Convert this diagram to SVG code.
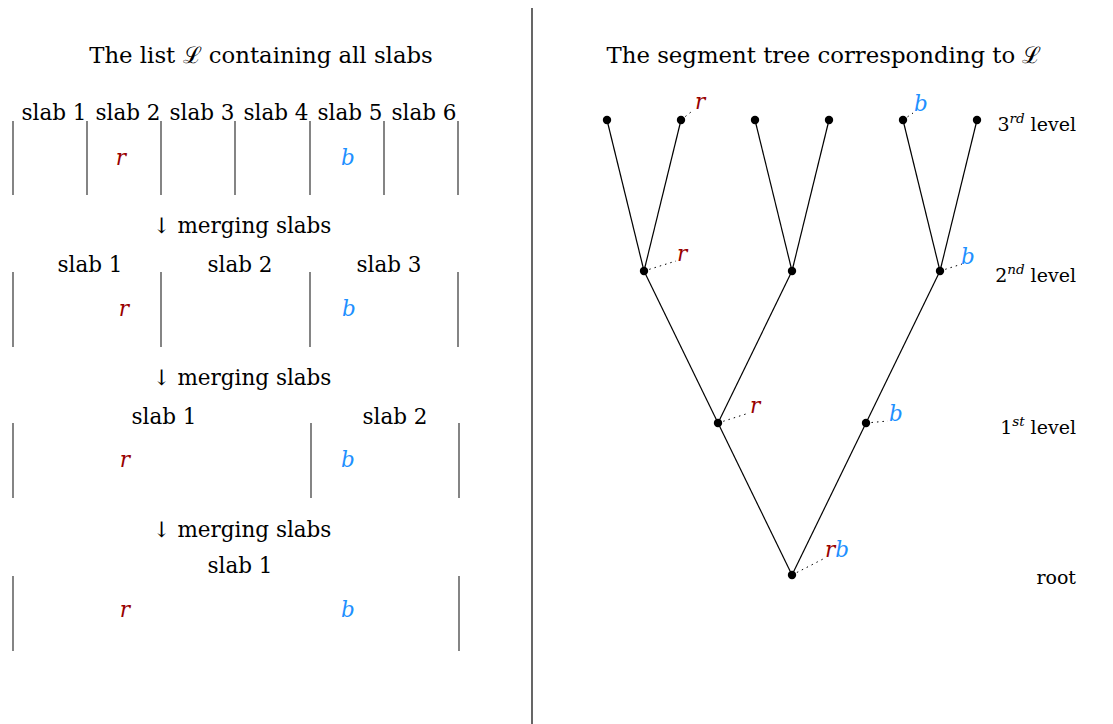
<svg xmlns="http://www.w3.org/2000/svg" width="1113" height="724" viewBox="0 0 1113 724">
<style>
text{font-family:"DejaVu Serif","Liberation Serif",serif;font-size:21.5px;fill:#000}
.t{font-size:22.8px}
.lv{font-size:19px}
.c{text-anchor:middle}
.e{text-anchor:end}
.r{fill:#990000;font-style:italic}
.b{fill:#1E90FF;font-style:italic}
.it{font-style:italic}
.sl{stroke:#333;stroke-width:1.2}
.ed{stroke:#000;stroke-width:1.2;fill:none}
.dt{stroke:#000;stroke-width:1;stroke-dasharray:1.5 4;fill:none}
.nd{fill:#000}
</style>
<line x1="532" y1="8" x2="532" y2="724" stroke="#000" stroke-width="1.2"/>
<g id="left-title"><text class="c t" x="261" y="63">The list ℒ containing all slabs</text></g>
<g id="row1">
<g class="sl"><line x1="13" y1="121" x2="13" y2="195"/><line x1="87" y1="121" x2="87" y2="195"/><line x1="161" y1="121" x2="161" y2="195"/><line x1="235" y1="121" x2="235" y2="195"/><line x1="310" y1="121" x2="310" y2="195"/><line x1="384" y1="121" x2="384" y2="195"/><line x1="458" y1="121" x2="458" y2="195"/></g>
<text class="c" x="54" y="120">slab 1</text><text class="c" x="128" y="120">slab 2</text><text class="c" x="202" y="120">slab 3</text><text class="c" x="276" y="120">slab 4</text><text class="c" x="350" y="120">slab 5</text><text class="c" x="424" y="120">slab 6</text>
<text class="r c" x="121" y="165">r</text><text class="b c" x="348" y="165">b</text>
</g>
<g id="merge1"><text class="c" x="242" y="233">↓ merging slabs</text></g>
<g id="row2">
<g class="sl"><line x1="13" y1="272" x2="13" y2="347"/><line x1="161" y1="272" x2="161" y2="347"/><line x1="310" y1="272" x2="310" y2="347"/><line x1="458" y1="272" x2="458" y2="347"/></g>
<text class="c" x="90" y="272">slab 1</text><text class="c" x="240" y="272">slab 2</text><text class="c" x="389" y="272">slab 3</text>
<text class="r c" x="124" y="316">r</text><text class="b c" x="349" y="316">b</text>
</g>
<g id="merge2"><text class="c" x="242" y="385">↓ merging slabs</text></g>
<g id="row3">
<g class="sl"><line x1="13" y1="423" x2="13" y2="498"/><line x1="311" y1="423" x2="311" y2="498"/><line x1="459" y1="423" x2="459" y2="498"/></g>
<text class="c" x="164" y="424">slab 1</text><text class="c" x="395" y="424">slab 2</text>
<text class="r c" x="125" y="467">r</text><text class="b c" x="348" y="467">b</text>
</g>
<g id="merge3"><text class="c" x="242" y="537">↓ merging slabs</text></g>
<g id="row4">
<g class="sl"><line x1="13" y1="576" x2="13" y2="651"/><line x1="459" y1="576" x2="459" y2="651"/></g>
<text class="c" x="240" y="573">slab 1</text>
<text class="r c" x="125" y="617">r</text><text class="b c" x="348" y="617">b</text>
</g>
<g id="right-title"><text class="c t" x="824" y="63">The segment tree corresponding to ℒ</text></g>
<g id="connectors">
<g class="ed">
<line x1="644" y1="271" x2="607" y2="120"/><line x1="644" y1="271" x2="681" y2="120"/>
<line x1="792" y1="271" x2="755" y2="120"/><line x1="792" y1="271" x2="829" y2="120"/>
<line x1="940" y1="271" x2="903" y2="120"/><line x1="940" y1="271" x2="977" y2="120"/>
<line x1="718" y1="423" x2="644" y2="271"/><line x1="718" y1="423" x2="792" y2="271"/>
<line x1="866" y1="423" x2="940" y2="271"/>
<line x1="792" y1="575" x2="718" y2="423"/><line x1="792" y1="575" x2="866" y2="423"/>
</g>
<g class="dt">
<line x1="681" y1="120" x2="691" y2="112"/>
<line x1="903" y1="120" x2="913" y2="113"/>
<line x1="644" y1="271" x2="676" y2="261"/>
<line x1="940" y1="271" x2="962" y2="264"/>
<line x1="718" y1="423" x2="749" y2="413"/>
<line x1="866" y1="423" x2="888" y2="421"/>
<line x1="792" y1="575" x2="825" y2="558"/>
</g>
</g>
<g id="n3-1"><circle class="nd" cx="607" cy="120" r="4.2"/></g>
<g id="n3-2"><circle class="nd" cx="681" cy="120" r="4.2"/><text class="r" x="695" y="109">r</text></g>
<g id="n3-3"><circle class="nd" cx="755" cy="120" r="4.2"/></g>
<g id="n3-4"><circle class="nd" cx="829" cy="120" r="4.2"/></g>
<g id="n3-5"><circle class="nd" cx="903" cy="120" r="4.2"/><text class="b" x="914" y="111">b</text></g>
<g id="n3-6"><circle class="nd" cx="977" cy="120" r="4.2"/></g>
<g id="n2-1"><circle class="nd" cx="644" cy="271" r="4.2"/><text class="r" x="677" y="261">r</text></g>
<g id="n2-2"><circle class="nd" cx="792" cy="271" r="4.2"/></g>
<g id="n2-3"><circle class="nd" cx="940" cy="271" r="4.2"/><text class="b" x="961" y="264">b</text></g>
<g id="n1-1"><circle class="nd" cx="718" cy="423" r="4.2"/><text class="r" x="750" y="413">r</text></g>
<g id="n1-2"><circle class="nd" cx="866" cy="423" r="4.2"/><text class="b" x="889" y="421">b</text></g>
<g id="root"><circle class="nd" cx="792" cy="575" r="4.2"/><text x="825" y="557"><tspan class="r">r</tspan><tspan class="b">b</tspan></text></g>
<g id="labels">
<text class="e lv" x="1076" y="131">3<tspan class="it" font-size="13.5" dy="-8">rd</tspan><tspan dy="8"> level</tspan></text>
<text class="e lv" x="1076" y="282">2<tspan class="it" font-size="13.5" dy="-8">nd</tspan><tspan dy="8"> level</tspan></text>
<text class="e lv" x="1076" y="434">1<tspan class="it" font-size="13.5" dy="-8">st</tspan><tspan dy="8"> level</tspan></text>
<text class="e lv" x="1076" y="584">root</text>
</g>
</svg>
